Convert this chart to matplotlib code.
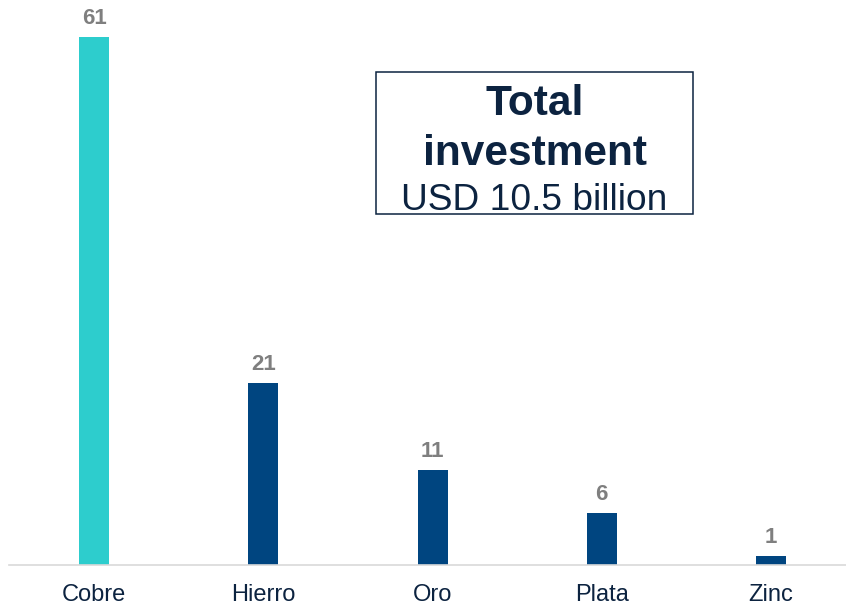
import matplotlib
matplotlib.use("Agg")
import matplotlib.pyplot as plt
from matplotlib.patches import Rectangle

plt.rcParams['font.family'] = ['Liberation Sans', 'DejaVu Sans']

categories = ["Cobre", "Hierro", "Oro", "Plata", "Zinc"]
values = [61, 21, 11, 6, 1]
bar_colors = ["#2DCDCD", "#004580", "#004580", "#004580", "#004580"]
box_title = ["Total", "investment"]
box_subtitle = "USD 10.5 billion"

W, H = 846, 605
fig = plt.figure(figsize=(W / 100, H / 100), dpi=100)
ax = fig.add_axes([9.4 / W, 40 / H, 1 - 9.4 / W, 565 / H])

x = range(len(categories))
bars = ax.bar(x, values, width=0.177, color=bar_colors, zorder=2)

for rect, v in zip(bars, values):
    ax.annotate(f"{v}", (rect.get_x() + rect.get_width() / 2, v),
                xytext=(0, 9.3), textcoords="offset points",
                ha="center", va="baseline", fontsize=16, fontweight="bold",
                color="#7F7F7F")

ax.set_xlim(-0.5, 4.443)
ax.set_ylim(0, 65.3)
ax.set_xticks(list(x))
ax.set_xticklabels(categories, fontsize=17, color="#0C2340")
ax.tick_params(axis="x", length=0, pad=14)
ax.set_yticks([])
for side in ("left", "right", "top"):
    ax.spines[side].set_visible(False)
ax.spines["bottom"].set_color("#D9D9D9")
ax.spines["bottom"].set_linewidth(1.2)

# Summary box
x0, x1 = 376 / W, 693 / W
y0, y1 = 1 - 214 / H, 1 - 72 / H
fig.patches.append(Rectangle((x0, y0), x1 - x0, y1 - y0, transform=fig.transFigure,
                             fill=False, edgecolor="#0C2340", linewidth=1.1))
cx = (x0 + x1) / 2
fig.text(cx, 1 - 115 / H, box_title[0], ha="center", va="baseline",
         fontsize=30.5, fontweight="bold", color="#0C2340")
fig.text(cx, 1 - 165 / H, box_title[1], ha="center", va="baseline",
         fontsize=30.5, fontweight="bold", color="#0C2340")
fig.text(cx, 1 - 210 / H, box_subtitle, ha="center", va="baseline",
         fontsize=26.7, color="#0C2340")

fig.savefig("out.png", dpi=100)
